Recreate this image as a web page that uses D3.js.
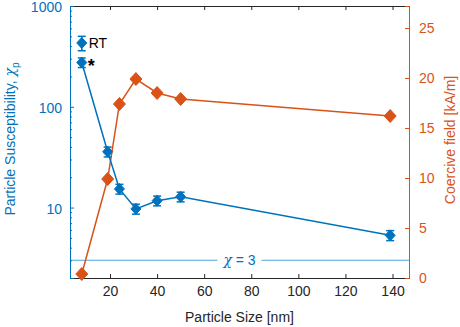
<!DOCTYPE html>
<html>
<head>
<meta charset="utf-8">
<script src="https://cdn.jsdelivr.net/npm/d3@7"></script>
<style>
  body { margin: 0; background: #fff; }
  svg { font-family: "Liberation Sans", Arial, sans-serif; }
</style>
</head>
<body>
<div id="chart"></div>
<script>
// particle sizes [nm]
const sizes = [8, 19, 24, 31, 40, 50, 139];
// susceptibility (left, log) and its error
const chiValues = [275, 35.8, 15.3, 9.7, 11.7, 12.8, 5.3];
const chiErrors = [30, 4, 1.7, 1.1, 1.3, 1.4, 0.6];
// room temperature point
const rtPoint = { size: 8, value: 430, err: 70 };
// coercive field (right) [kA/m]
const hcValues = [0.4, 9.9, 17.4, 19.9, 18.5, 17.9, 16.2];
const xTicks = [20, 40, 60, 80, 100, 120, 140];
const yLeftTicks = [10, 100, 1000];
const yRightTicks = [0, 5, 10, 15, 20, 25];
const chiLimit = 3;

const blue = "#0072BD", orange = "#D95319", lightBlue = "#4DA6E0", gray = "#262626";
const W = 460, H = 327;
const margin = { top: 6, right: 51, bottom: 49, left: 70 };
const w = W - margin.left - margin.right;
const h = H - margin.top - margin.bottom;

const svg = d3.select("#chart").append("svg").attr("width", W).attr("height", H);
const g = svg.append("g").attr("transform", `translate(${margin.left},${margin.top})`);

const x = d3.scaleLinear().domain([3, 147]).range([0, w]);
const yL = d3.scaleLog().domain([2, 1000]).range([h, 0]);
const yR = d3.scaleLinear().domain([0, 27.2]).range([h, 0]);

// chi = 3 reference line with gap for label
const lx = x(75), gap = 22;
g.append("line").attr("x1", 0).attr("x2", lx - gap).attr("y1", yL(chiLimit)).attr("y2", yL(chiLimit))
  .attr("stroke", lightBlue).attr("stroke-width", 1);
g.append("line").attr("x1", lx + gap).attr("x2", w).attr("y1", yL(chiLimit)).attr("y2", yL(chiLimit))
  .attr("stroke", lightBlue).attr("stroke-width", 1);
const lbl = g.append("text").attr("x", lx).attr("y", yL(chiLimit) + 5).attr("text-anchor", "middle")
  .attr("fill", blue).style("font-size", "14px");
lbl.append("tspan").attr("font-style", "italic").attr("font-family", "DejaVu Serif").text("χ");
lbl.append("tspan").text(" = " + chiLimit);

// axes (MATLAB-like, ticks inward)
const xAxisB = g.append("g").attr("transform", `translate(0,${h})`)
  .call(d3.axisBottom(x).tickValues(xTicks).tickSize(-4).tickPadding(10));
const xAxisT = g.append("g").call(d3.axisTop(x).tickValues(xTicks).tickSize(-4).tickFormat(""));
[xAxisB, xAxisT].forEach(a => {
  a.select(".domain").attr("stroke", gray);
  a.selectAll(".tick line").attr("stroke", gray);
  a.selectAll("text").attr("fill", gray).style("font-size", "14px").attr("dy", "0.55em");
});

const minor = [];
[1, 10, 100].forEach(d => { for (let k = 2; k <= 9; k++) if (d * k >= 2) minor.push(d * k); });
const yAxisLMinor = g.append("g").call(d3.axisLeft(yL).tickValues(minor).tickSize(-2).tickFormat(""));
yAxisLMinor.select(".domain").remove();
yAxisLMinor.selectAll("line").attr("stroke", blue);
const yAxisL = g.append("g").call(d3.axisLeft(yL).tickValues(yLeftTicks).tickSize(-4).tickPadding(8).tickFormat(d3.format("d")));
yAxisL.select(".domain").attr("stroke", blue);
yAxisL.selectAll("line").attr("stroke", blue);
yAxisL.selectAll("text").attr("fill", blue).style("font-size", "14px").attr("dy", "0.4em");

const yAxisR = g.append("g").attr("transform", `translate(${w},0)`)
  .call(d3.axisRight(yR).tickValues(yRightTicks).tickSize(-4).tickPadding(10));
yAxisR.select(".domain").attr("stroke", orange);
yAxisR.selectAll("line").attr("stroke", orange);
yAxisR.selectAll("text").attr("fill", orange).style("font-size", "14px");

// axis titles
svg.append("text").attr("x", margin.left + w / 2).attr("y", 322).attr("text-anchor", "middle")
  .attr("fill", gray).style("font-size", "14px").text("Particle Size [nm]");
const tl = svg.append("text").attr("transform", `translate(15,${margin.top + h / 2 - 3}) rotate(-90)`)
  .attr("text-anchor", "middle").attr("fill", blue).style("font-size", "14px");
tl.append("tspan").text("Particle Susceptibility, ");
tl.append("tspan").attr("font-style", "italic").attr("font-family", "DejaVu Serif").text("χ");
tl.append("tspan").attr("dy", 4).style("font-size", "10px").text("p");
svg.append("text").attr("transform", `translate(455,${margin.top + h / 2 - 2}) rotate(-90)`)
  .attr("text-anchor", "middle").attr("fill", orange).style("font-size", "14px").text("Coercive field [kA/m]");

// orange series
const hcData = sizes.map((s, i) => ({ s, v: hcValues[i] }));
g.append("path").datum(hcData)
  .attr("d", d3.line().x(d => x(d.s)).y(d => yR(d.v)))
  .attr("fill", "none").attr("stroke", orange).attr("stroke-width", 1.5);
const diamond = (cx, cy, rx, ry) => `M${cx},${cy - ry}L${cx + rx},${cy}L${cx},${cy + ry}L${cx - rx},${cy}Z`;
g.selectAll(".hc").data(hcData).join("path")
  .attr("d", d => diamond(x(d.s), yR(d.v), 6, 6.5)).attr("fill", orange).attr("stroke", orange);

// blue series
const chiData = sizes.map((s, i) => ({ s, v: chiValues[i], e: chiErrors[i] }));
g.append("path").datum(chiData)
  .attr("d", d3.line().x(d => x(d.s)).y(d => yL(d.v)))
  .attr("fill", "none").attr("stroke", blue).attr("stroke-width", 1.5);
const allChi = chiData.concat([{ s: rtPoint.size, v: rtPoint.value, e: rtPoint.err }]);
const eb = g.selectAll(".eb").data(allChi).join("g").attr("stroke", blue).attr("stroke-width", 1.5);
eb.append("line").attr("x1", d => x(d.s)).attr("x2", d => x(d.s))
  .attr("y1", d => yL(d.v + d.e)).attr("y2", d => yL(d.v - d.e));
eb.append("line").attr("x1", d => x(d.s) - 4).attr("x2", d => x(d.s) + 4)
  .attr("y1", d => yL(d.v + d.e)).attr("y2", d => yL(d.v + d.e));
eb.append("line").attr("x1", d => x(d.s) - 4).attr("x2", d => x(d.s) + 4)
  .attr("y1", d => yL(d.v - d.e)).attr("y2", d => yL(d.v - d.e));
g.selectAll(".chi").data(allChi).join("path")
  .attr("d", d => diamond(x(d.s), yL(d.v), 5, 5.5)).attr("fill", blue).attr("stroke", blue);

// annotations
g.append("text").attr("x", x(rtPoint.size) + 7).attr("y", yL(rtPoint.value) + 5)
  .attr("fill", "#000").style("font-size", "14px").text("RT");
g.append("text").attr("x", x(sizes[0]) + 6).attr("y", yL(chiValues[0]) + 9)
  .attr("fill", "#000").style("font-size", "18px").style("font-weight", "bold").text("*");
</script>
</body>
</html>
